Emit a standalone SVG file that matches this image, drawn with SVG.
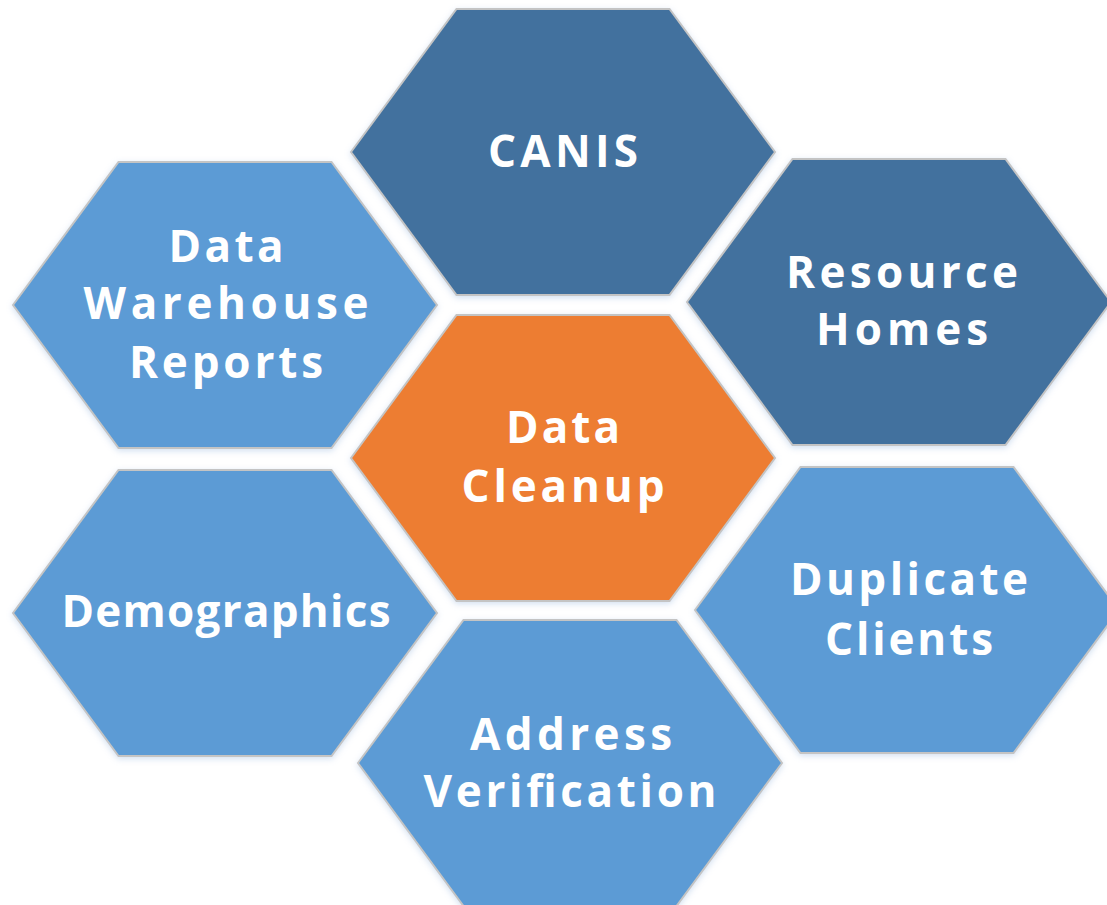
<svg xmlns="http://www.w3.org/2000/svg" xmlns:xlink="http://www.w3.org/1999/xlink" width="1107" height="905" viewBox="0 0 1107 905">
<defs>
<polygon id="hex" points="0,143 105.5,0 318.5,0 424,143 318.5,286 105.5,286"/>
<filter id="glow" x="-5%" y="-5%" width="110%" height="110%">
<feDropShadow dx="0" dy="2" stdDeviation="3" flood-color="#9dbbe0" flood-opacity="0.45"/>
</filter>
</defs>
<style>
.hx{stroke:#c4c4c4;stroke-width:2;filter:url(#glow)}
.dark{fill:#43719e}
.light{fill:#5b9bd5}
.orange{fill:#ed7d31}
text{font-family:"Open Sans","DejaVu Sans",sans-serif;font-weight:700;font-size:44px;fill:#ffffff;text-anchor:middle}
</style>
<rect width="1107" height="905" fill="#ffffff"/>
<g id="node-canis">
<use xlink:href="#hex" href="#hex" class="hx dark" x="351" y="9"/>
<text x="563" y="167" textLength="150" lengthAdjust="spacing">CANIS</text>
</g>
<g id="node-dwr">
<use xlink:href="#hex" href="#hex" class="hx light" x="13" y="162"/>
<text x="226" y="262" textLength="115" lengthAdjust="spacing">Data</text>
<text x="226" y="319" textLength="285" lengthAdjust="spacing">Warehouse</text>
<text x="226" y="378" textLength="194" lengthAdjust="spacing">Reports</text>
</g>
<g id="node-resource">
<use xlink:href="#hex" href="#hex" class="hx dark" x="687" y="159"/>
<text x="902" y="288" textLength="232" lengthAdjust="spacing">Resource</text>
<text x="902" y="345" textLength="172" lengthAdjust="spacing">Homes</text>
</g>
<g id="node-cleanup">
<use xlink:href="#hex" href="#hex" class="hx orange" x="351" y="315"/>
<text x="563" y="443" textLength="114" lengthAdjust="spacing">Data</text>
<text x="563" y="502" textLength="203" lengthAdjust="spacing">Cleanup</text>
</g>
<g id="node-demographics">
<use xlink:href="#hex" href="#hex" class="hx light" x="13" y="470"/>
<text x="226" y="627" textLength="329" lengthAdjust="spacing">Demographics</text>
</g>
<g id="node-duplicate">
<use xlink:href="#hex" href="#hex" class="hx light" x="695" y="467"/>
<text x="909" y="595" textLength="238" lengthAdjust="spacing">Duplicate</text>
<text x="909" y="655" textLength="168" lengthAdjust="spacing">Clients</text>
</g>
<g id="node-address">
<use xlink:href="#hex" href="#hex" class="hx light" x="358" y="620"/>
<text x="571" y="750" textLength="202" lengthAdjust="spacing">Address</text>
<text x="570" y="807" textLength="293" lengthAdjust="spacing">Verification</text>
</g>
<g id="connectors"></g>
</svg>
